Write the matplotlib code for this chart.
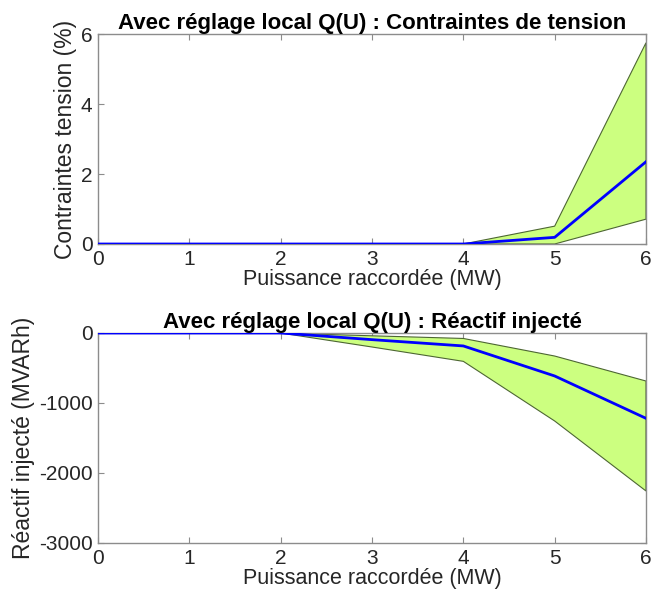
import numpy as np
import matplotlib as mpl
import matplotlib.pyplot as plt

mpl.rcParams.update({
    "font.family": ["Liberation Sans", "DejaVu Sans"],
    "font.size": 15,
    "axes.unicode_minus": False,
    "axes.linewidth": 1.0,
    "axes.edgecolor": "#8c8c8c",
    "xtick.color": "#8c8c8c", "ytick.color": "#8c8c8c",
    "xtick.labelcolor": "#262626", "ytick.labelcolor": "#262626",
    "xtick.direction": "in", "ytick.direction": "in",
    "xtick.top": True, "ytick.right": True,
})
C_FILL = "#ccff80"; C_EDGE = "#4d6633"; C_LINE = "#0000ff"

puissance = [0, 1, 2, 3, 4, 5, 6]

# contraintes de tension (%)
tens_bas = [0, 0, 0, 0, 0, 0.0, 0.71]
tens_moy = [0, 0, 0, 0, 0, 0.19, 2.35]
tens_haut = [0, 0, 0, 0, 0, 0.51, 5.75]

# reactif injecte (MVARh)
reac_bas = [0, 0, 0, -200, -405, -1257, -2257]
reac_moy = [0, 0, 0, -95, -185, -614, -1219]
reac_haut = [0, 0, 0, -40, -78, -329, -686]


def panel(ax, lo, mid, hi, title, ylabel, ylim, yticks):
    x = np.array(puissance)
    ax.fill(np.concatenate([x, x[::-1]]), np.concatenate([lo, hi[::-1]]),
            facecolor=C_FILL, edgecolor=C_EDGE, linewidth=0.8, zorder=2)
    ax.plot(x, mid, color=C_LINE, lw=2, zorder=3)
    ax.set_xlim(0, 6)
    ax.set_ylim(*ylim)
    ax.set_xticks(puissance)
    ax.set_yticks(yticks)
    ax.set_title(title, fontsize=16, fontweight="bold", pad=3)
    ax.set_ylabel(ylabel, color="#262626", fontsize=16.5, labelpad=3)
    ax.set_xlabel("Puissance raccordée (MW)", color="#262626",
                  fontsize=15.5, labelpad=0)
    ax.tick_params(length=4, width=0.8, pad=4)


fig = plt.figure(figsize=(6.64, 5.98), dpi=100)
ax1 = fig.add_axes([98 / 664, 1 - 244 / 598, 548 / 664, 210 / 598])
ax2 = fig.add_axes([98 / 664, 1 - 543 / 598, 548 / 664, 210 / 598])

panel(ax1, np.array(tens_bas), tens_moy, np.array(tens_haut),
      "Avec réglage local Q(U) : Contraintes de tension",
      "Contraintes tension (%)", (0, 6), [0, 2, 4, 6])
panel(ax2, np.array(reac_bas), reac_moy, np.array(reac_haut),
      "Avec réglage local Q(U) : Réactif injecté",
      "Réactif injecté (MVARh)", (-3000, 0), [-3000, -2000, -1000, 0])

fig.savefig("out.png", dpi=100)
